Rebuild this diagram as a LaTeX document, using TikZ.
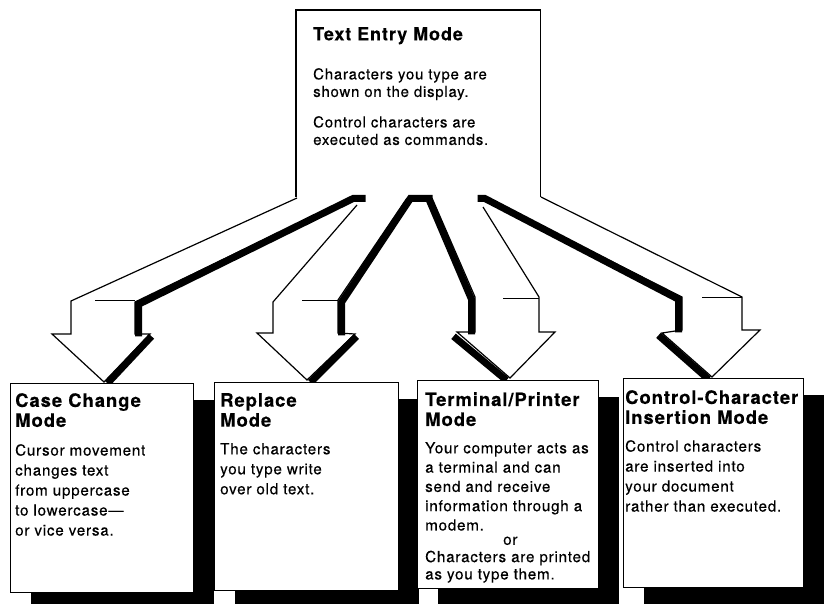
\documentclass[tikz,border=0pt]{standalone}
\usepackage{fontspec}
\newfontfamily\helv{TeX Gyre Heros}[LetterSpace=5, FakeBold=0.3]
\usetikzlibrary{shadows}

\begin{document}
\begin{tikzpicture}[x=1pt, y=-1pt,
    modebox/.style={draw, line width=1.4pt, fill=white, inner sep=0pt, anchor=north west,
        drop shadow={shadow xshift=20pt, shadow yshift=-16pt, opacity=1, fill=black}},
    boxtitle/.style={anchor=north west, inner sep=0pt, align=left,
        font=\helv\bfseries\fontsize{18.5}{20}\selectfont},
    boxbody/.style={anchor=north west, inner sep=0pt, align=left,
        font=\helv\fontsize{15.2}{20}\selectfont},
    arrface/.style={fill=white},
    arrwall/.style={line width=7pt, line join=miter},
    arrrim/.style={line width=1.2pt, line join=miter},
    crease/.style={line width=1pt}]

    \clip (0,0) rectangle (824,604);
    \fill[white] (0,0) rectangle (824,604);

    % top box, open at the bottom
    \node[inner sep=0pt, minimum width=244pt, minimum height=187pt, anchor=north west] (entry) at (296,10) {};
    \draw[line width=1.4pt] (entry.south west) -- (entry.north west) -- (entry.north east) -- (entry.south east);
    \node[boxtitle, font=\helv\bfseries\fontsize{18}{20}\selectfont] (entrytt) at (313,27) {Text Entry Mode};
    \node[boxbody, font=\helv\fontsize{15}{17.5}\selectfont] (entrybody) at (313,68)
        {Characters you type are\\shown on the display.\\[13pt]Control characters are\\executed as commands.};

    % arrow faces
    \fill[arrface] (297,198) -- (71,301) -- (71,334) -- (52,334) -- (104,382) -- (150,334) -- (135,334) -- (135,302) -- (350,198) -- cycle;
    \fill[arrface] (357,205) -- (273,302) -- (273,333) -- (257,333) -- (307,380) -- (355,334) -- (338,333) -- (338,300) -- (407,198) -- cycle;
    \fill[arrface] (432,198) -- (475,297) -- (475,332) -- (457,332) -- (510,378) -- (555,332) -- (539,332) -- (539,297) -- (483,207) -- cycle;
    \fill[arrface] (486,198) -- (682,297) -- (682,330) -- (662,333) -- (712,377) -- (760,330) -- (742,330) -- (742,297) -- (541,197) -- cycle;

    % black sides
    \begin{scope}[shift={(3.5,2.3)}]
        \draw[arrwall] (362,196) -- (350,196) -- (135,302) -- (135,334);
        \draw[arrwall] (148,334) -- (104,381);
        \draw[arrwall] (429,196) -- (407,196) -- (338,300) -- (338,333);
        \draw[arrwall] (353,334) -- (307,380);
    \end{scope}
    \begin{scope}[shift={(-3.5,2.3)}]
        \draw[arrwall] (432,196) -- (475,297) -- (475,332);
        \draw[arrwall] (457,334) -- (510,378);
        \draw[arrwall] (481,196) -- (488,196) -- (682,297) -- (682,330);
        \draw[arrwall] (662,333) -- (712,377);
    \end{scope}

    % outlines
    \draw[arrrim] (297,198) -- (71,301) -- (71,334) -- (52,334) -- (104,382) -- (150,334) -- (135,334) -- (135,302) -- (350,198);
    \draw[arrrim] (357,205) -- (273,302) -- (273,333) -- (257,333) -- (307,380) -- (355,334) -- (338,333) -- (338,300) -- (407,198);
    \draw[arrrim] (432,198) -- (475,297) -- (475,332) -- (457,332) -- (510,378) -- (555,332) -- (539,332) -- (539,297) -- (483,207);
    \draw[arrrim] (486,198) -- (682,297) -- (682,330) -- (662,333) -- (712,377) -- (760,330) -- (742,330) -- (742,297) -- (541,197);
    \draw[crease] (95,300) -- (135,300);
    \draw[crease] (302,300) -- (338,300);
    \draw[crease] (503,298) -- (539,298);
    \draw[crease] (702,297) -- (742,297);

    % mode boxes
    \node[modebox, minimum width=183pt, minimum height=209pt] (case) at (10,383) {};
    \node[modebox, minimum width=184pt, minimum height=208pt] (replace) at (214,382) {};
    \node[modebox, minimum width=181pt, minimum height=208pt] (term) at (417,380) {};
    \node[modebox, minimum width=180pt, minimum height=209pt] (ctrl) at (623,378) {};

    \node[boxtitle] (casett) at (15,393) {Case Change\\Mode};
    \node[boxbody] (casebody) at (15,444) {Cursor movement\\changes text\\from uppercase\\to lowercase—\\or vice versa.};

    \node[boxtitle] (replacett) at (220,393) {Replace\\Mode};
    \node[boxbody] (replacebody) at (220,443) {The characters\\you type write\\over old text.};

    \node[boxtitle] (termtt) at (425,392) {Terminal/Printer\\Mode};
    \node[boxbody, font=\helv\fontsize{15.2}{19.3}\selectfont] (termbody) at (425,442) {Your computer acts as\\a terminal and can\\send and receive\\information through a\\modem.\\[-5pt]\hspace*{78pt}or\\[-2pt]Characters are printed\\[-2pt]as you type them.};

    \node[boxtitle] (ctrltt) at (625,390) {Control-Character\\Insertion Mode};
    \node[boxbody] (ctrlbody) at (625,440) {Control characters\\are inserted into\\your document\\rather than executed.};

\end{tikzpicture}
\end{document}
